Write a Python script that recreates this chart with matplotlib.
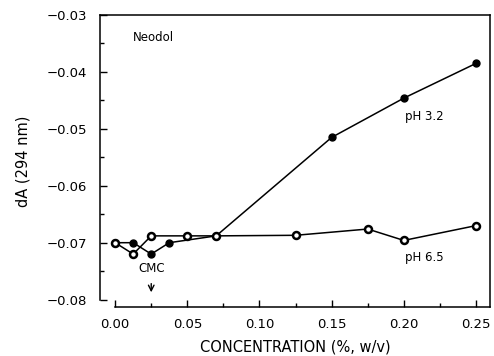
import matplotlib
matplotlib.use("Agg")
import matplotlib.pyplot as plt
from matplotlib.ticker import MultipleLocator, FuncFormatter

# pH 3.2 series (filled circles)
conc_ph32 = [0.0, 0.0125, 0.025, 0.0375, 0.07, 0.15, 0.20, 0.25]
da_ph32 = [-0.0700, -0.0700, -0.0720, -0.0700, -0.0688, -0.0515, -0.0446, -0.0385]

# pH 6.5 series (open circles)
conc_ph65 = [0.0, 0.0125, 0.025, 0.05, 0.07, 0.125, 0.175, 0.20, 0.25]
da_ph65 = [-0.0700, -0.0720, -0.0688, -0.0688, -0.0688, -0.0687, -0.0676, -0.0696, -0.0670]

cmc = 0.025

plt.rcParams["font.family"] = ["DejaVu Sans"]

fig = plt.figure(figsize=(4.94, 3.56), dpi=100)
ax = fig.add_axes([0.2024, 0.1376, 0.7895, 0.8202])

ax.plot(conc_ph32, da_ph32, "-o", color="black", lw=1.1,
        ms=5, mfc="black", mec="black")
ax.plot(conc_ph65, da_ph65, "-o", color="black", lw=1.1,
        ms=5, mfc="white", mec="black", mew=1.8)

ax.set_xlim(-0.0105, 0.2597)
ax.set_ylim(-0.0813, -0.0300)

ax.spines["left"].set_bounds(-0.08, -0.03)
ax.spines["bottom"].set_bounds(0.0, 0.2597)
for s in ax.spines.values():
    s.set_linewidth(1.1)

fmt = FuncFormatter(lambda v, p: f"{v:.2f}".replace("-", "\u2212"))
ax.xaxis.set_major_locator(MultipleLocator(0.05))
ax.xaxis.set_minor_locator(MultipleLocator(0.025))
ax.yaxis.set_major_locator(MultipleLocator(0.01))
ax.yaxis.set_minor_locator(MultipleLocator(0.005))
ax.xaxis.set_major_formatter(fmt)
ax.yaxis.set_major_formatter(fmt)
ax.tick_params(which="both", direction="in", labelsize=9.5, width=1)
ax.tick_params(which="major", length=5)
ax.tick_params(which="minor", length=3)
ax.tick_params(axis="y", pad=9)
ax.tick_params(axis="x", pad=8)
ax.set_xticks([t for t in ax.get_xticks() if 0 <= t <= 0.26])

ax.set_xlabel("CONCENTRATION (%, w/v)", fontsize=10.5, labelpad=6)
ax.set_ylabel("dA (294 nm)", fontsize=10.5, labelpad=12)

ax.text(0.012, -0.0339, "Neodol", fontsize=8.5, va="center", ha="left")
ax.text(0.2005, -0.0479, "pH 3.2", fontsize=8.5, va="center", ha="left")
ax.text(0.2005, -0.0726, "pH 6.5", fontsize=8.5, va="center", ha="left")
ax.text(cmc, -0.0746, "CMC", fontsize=8.5, va="center", ha="center")
ax.annotate("", xy=(cmc, -0.0792), xytext=(cmc, -0.0767),
            arrowprops=dict(arrowstyle="->", color="black", lw=1))

fig.savefig("out.png", dpi=100)
